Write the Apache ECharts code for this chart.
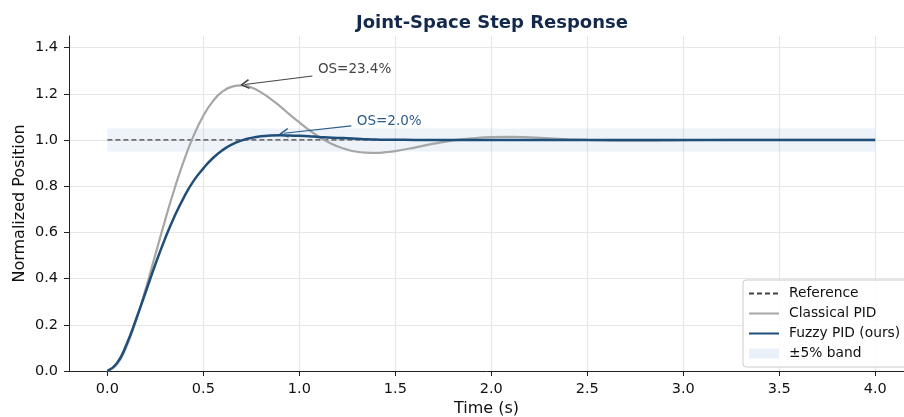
<!DOCTYPE html>
<html>
<head>
<meta charset="utf-8">
<script src="https://cdn.jsdelivr.net/npm/echarts@6/dist/echarts.min.js"></script>
<style>
html,body{margin:0;padding:0;background:#fff;}
#chart{width:904px;height:417px;}
</style>
</head>
<body>
<div id="chart"></div>
<script>
// ---- data ----
const timeS = [0,0.05,0.10,0.15,0.20,0.25,0.30,0.35,0.40,0.45,0.50,0.55,0.60,0.65,0.70,0.75,0.80,0.85,0.90,0.95,
  1.00,1.05,1.10,1.15,1.20,1.25,1.30,1.35,1.40,1.45,1.50,1.6,1.7,1.8,1.9,2.0,2.1,2.2,2.3,2.4,2.5,2.6,2.7,2.8,2.9,3.0,3.25,3.5,3.75,4.0];
const classicalPID = [0,0.029,0.107,0.221,0.357,0.504,0.651,0.790,0.914,1.020,1.105,1.168,1.210,1.231,1.236,1.227,1.206,1.178,1.145,1.110,
  1.076,1.044,1.015,0.991,0.972,0.958,0.949,0.945,0.944,0.947,0.952,0.967,0.984,0.998,1.007,1.012,1.013,1.011,1.007,1.003,1.000,0.998,0.997,0.997,0.998,0.999,1.000,1.000,1.000,1.000];
const fuzzyPID = [0,0.034,0.116,0.225,0.343,0.462,0.572,0.670,0.754,0.824,0.877,0.922,0.956,0.981,0.998,1.009,1.016,1.019,1.020,1.019,
  1.018,1.016,1.013,1.011,1.009,1.007,1.005,1.003,1.002,1.001,1.001,1.000,1.000,1.000,1.000,1.000,1.000,1.000,1.000,1.000,1.000,1.000,1.000,1.000,1.000,1.000,1.000,1.000,1.000,1.000];
const refTimes = [0, 4.0];
const refValues = [1.0, 1.0];
const bandTimes = [0, 4.0];
const bandLow = 0.95;
const bandHigh = 1.05;
const xTicks = [0,0.5,1.0,1.5,2.0,2.5,3.0,3.5,4.0];
const yTicks = [0,0.2,0.4,0.6,0.8,1.0,1.2,1.4];
const annClassical = {text:'OS=23.4%', textAt:[1.094,1.303], from:[1.068,1.277], to:[0.716,1.240]};
const annFuzzy = {text:'OS=2.0%', textAt:[1.297,1.082], from:[1.271,1.061], to:[0.92,1.029]};

const FONT = 'DejaVu Sans';
const zip = (xs, ys) => xs.map((x, i) => [x, ys[i]]);
const arrowPath = 'path://M5,0 L10,8.5 L8.8,9.4 L5,3 L1.2,9.4 L0,8.5 Z';
const gray = '#e6e6e6';
const clear = 'rgba(0,0,0,0)';

function annotation(a, color){
  return {
    markLine: {
      silent: true, animation: false,
      symbol: ['none', 'none'],
      lineStyle: {color: color, width: 1.1, type: 'solid'},
      label: {show: false},
      emphasis: {disabled: true},
      data: [[{coord: a.from, symbol: 'none'}, {coord: a.to, symbol: arrowPath, symbolSize: 10, symbolKeepAspect: true}]]
    },
    markPoint: {
      silent: true, animation: false,
      symbol: 'circle', symbolSize: 1,
      itemStyle: {color: clear},
      label: {show: true, position: 'right', distance: 0, formatter: a.text,
        color: color, fontFamily: FONT, fontSize: 13.5},
      data: [{coord: a.textAt}]
    }
  };
}

const chart = echarts.init(document.getElementById('chart'), null, {renderer: 'canvas'});
chart.setOption({
  animation: false,
  backgroundColor: '#fff',
  title: {
    text: 'Joint-Space Step Response', left: 351, top: 9,
    textStyle: {fontFamily: FONT, fontSize: 18, fontWeight: 'bold', color: '#14284b'}
  },
  grid: {left: 69, right: 0, top: 36, bottom: 46, containLabel: false, outerBoundsMode: 'none'},
  xAxis: {
    type: 'value', min: -0.2, max: 4.15, splitNumber: 9,
    name: 'Time (s)', nameLocation: 'middle', nameGap: 30, nameMoveOverlap: false,
    nameTextStyle: {fontFamily: FONT, fontSize: 16, color: '#111'},
    axisLine: {onZero: false, lineStyle: {color: '#222', width: 1}},
    axisTick: {show: true, length: 5, customValues: xTicks, lineStyle: {color: '#222'}},
    axisLabel: {customValues: xTicks, margin: 11, fontFamily: FONT, fontSize: 14.5, color: '#111',
      formatter: v => v.toFixed(1)},
    splitLine: {show: true, lineStyle: {color: [clear, gray, gray, gray, gray, gray, gray, gray, gray, gray, clear], width: 1}}
  },
  yAxis: {
    type: 'value', min: 0, max: 1.45, splitNumber: 7,
    name: 'Normalized Position', nameLocation: 'middle', nameGap: 41, nameMoveOverlap: false,
    nameTextStyle: {fontFamily: FONT, fontSize: 16, color: '#111'},
    axisLine: {show: true, onZero: false, lineStyle: {color: '#222', width: 1}},
    axisTick: {show: true, length: 5, customValues: yTicks, lineStyle: {color: '#222'}},
    axisLabel: {customValues: yTicks, margin: 11, fontFamily: FONT, fontSize: 14.5, color: '#111',
      formatter: v => v.toFixed(1)},
    splitLine: {show: true, lineStyle: {color: [gray, gray, gray, gray, gray, gray, gray, gray, clear], width: 1}}
  },
  legend: {
    orient: 'vertical', left: 743, top: 280,
    padding: [6, 12, 6, 5], itemGap: 5, itemWidth: 30, itemHeight: 10,
    backgroundColor: 'rgba(255,255,255,0.85)', borderColor: '#cccccc', borderWidth: 1, borderRadius: 3,
    itemStyle: {opacity: 0},
    textStyle: {fontFamily: FONT, fontSize: 13.8, lineHeight: 15, color: '#111', padding: [0, 0, 0, 5]},
    data: [
      {name: 'Reference'},
      {name: 'Classical PID'},
      {name: 'Fuzzy PID (ours)'},
      {name: '±5% band', icon: 'rect', itemStyle: {color: '#e9f0f9', opacity: 1}}
    ]
  },
  series: [
    {
      name: '±5% band', type: 'line', data: [], symbol: 'none',
      itemStyle: {color: '#e9f0f9'}, lineStyle: {width: 0},
      markArea: {
        silent: true,
        itemStyle: {color: 'rgba(74,134,200,0.10)'},
        data: [[{coord: [bandTimes[0], bandLow]}, {coord: [bandTimes[1], bandHigh]}]]
      },
      z: 1
    },
    {
      name: 'Reference', type: 'line', data: zip(refTimes, refValues), symbol: 'none',
      itemStyle: {color: '#444'},
      lineStyle: {color: '#444', width: 1.3, type: [5, 3]}, z: 2
    },
    Object.assign({
      name: 'Classical PID', type: 'line', data: zip(timeS, classicalPID), symbol: 'none', smooth: 0.5,
      itemStyle: {color: '#a6a6a6'}, lineStyle: {color: '#a6a6a6', width: 2.2}, z: 3
    }, annotation(annClassical, '#444444')),
    Object.assign({
      name: 'Fuzzy PID (ours)', type: 'line', data: zip(timeS, fuzzyPID), symbol: 'none', smooth: 0.5,
      itemStyle: {color: '#1f4e79'}, lineStyle: {color: '#1f4e79', width: 2.5}, z: 4
    }, annotation(annFuzzy, '#2b5d8c'))
  ]
});
</script>
</body>
</html>
